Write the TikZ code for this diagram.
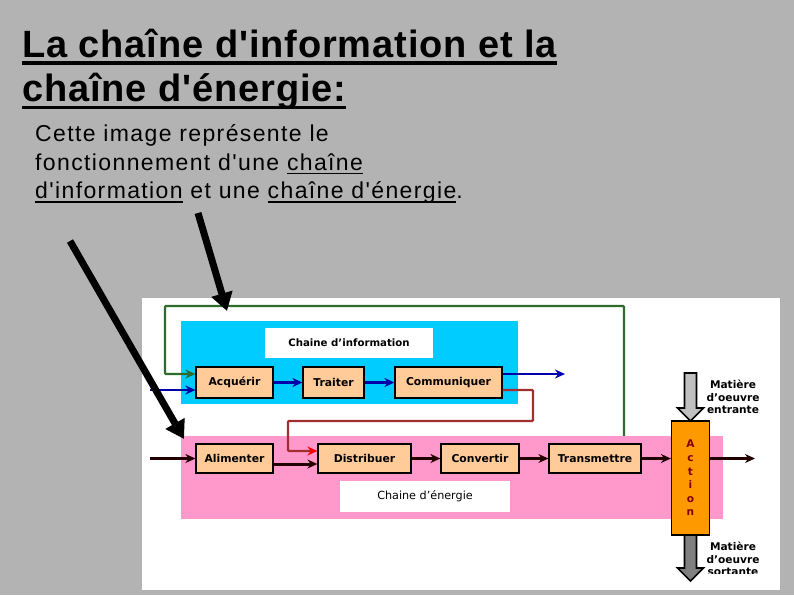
\documentclass[tikz,border=0pt]{standalone}
\usepackage{fontspec}
\setmainfont{Liberation Sans}
\newfontfamily\titlefont{Liberation Sans}[LetterSpace=2.3,Ligatures=TeXOff]
\newfontfamily\subfont{Liberation Sans}[LetterSpace=6,Ligatures=TeXOff]
\newfontfamily\dvfont{DejaVu Sans}
\usetikzlibrary{arrows.meta}
\pgfdeclarelayer{layA}\pgfdeclarelayer{layB}\pgfdeclarelayer{layC}
\pgfsetlayers{layA,layB,layC,main}
\definecolor{bggray}{HTML}{B3B3B3}
\definecolor{infoblue}{HTML}{00CCFF}
\definecolor{energypink}{HTML}{FF99CC}
\definecolor{boxpeach}{HTML}{FFCC99}
\definecolor{actorange}{HTML}{FF9900}
\definecolor{greenline}{HTML}{2F6B2F}
\definecolor{navyline}{HTML}{0000AA}
\definecolor{redline}{HTML}{A03030}
\definecolor{arrred}{HTML}{FF0000}
\definecolor{darkline}{HTML}{220000}
\definecolor{maroonc}{HTML}{800000}
\definecolor{lightgrayarr}{HTML}{C0C0C0}
\definecolor{darkgrayarr}{HTML}{808080}
\newcommand\ulbox[3]{\setbox0\hbox{#3}\rlap{\rule[#1]{\wd0}{#2}}\box0\relax}
\tikzset{
  block/.style={draw=black, line width=1.2pt, fill=boxpeach, inner sep=0pt,
    font=\dvfont\bfseries\fontsize{10.8}{12}\selectfont, text=black},
  chainlabel/.style={fill=white, inner sep=0pt, text=black},
  flow/.style={line width=2.3pt, -{Stealth[length=10pt,width=9pt]}},
  eflow/.style={flow, darkline},
  bigarrow/.style={line width=7pt, black, -{Triangle[length=18pt,width=21pt]}},
  mtext/.style={align=center, inner sep=0pt, text=black,
    font=\dvfont\bfseries\fontsize{10.6}{12.8}\selectfont},
  titletext/.style={anchor=base west, inner sep=0pt, text=black,
    font=\titlefont\bfseries\fontsize{38}{44}\selectfont},
  subtext/.style={anchor=base west, inner sep=0pt, text=black,
    font=\subfont\fontsize{23}{28}\selectfont},
}
\begin{document}
\begin{tikzpicture}[x=1pt,y=-1pt]
\useasboundingbox (0,0) rectangle (794,595);
\begin{pgfonlayer}{layA}
  \fill[bggray] (0,0) rectangle (794,595);
  \fill[white] (142,298) rectangle (780,590);
  \fill[infoblue] (181,321) rectangle (518,404);
\end{pgfonlayer}
\begin{pgfonlayer}{layC}
  \fill[energypink] (181,436) rectangle (723,519);
\end{pgfonlayer}

% title
\node[titletext] (t1) at (22,57) {\ulbox{-7.5pt}{3.5pt}{La chaîne d'information et la}};
\node[titletext] (t2) at (22,101.5) {\ulbox{-7.5pt}{3.5pt}{chaîne d'énergie:}};
\node[subtext] (s1) at (35,141) {Cette image représente le};
\node[subtext] (s2) at (35,170) {fonctionnement d'une \ulbox{-4.2pt}{1.7pt}{chaîne}};
\node[subtext] (s3) at (35,198.5) {\ulbox{-4.2pt}{1.7pt}{d'information} et une \ulbox{-4.2pt}{1.7pt}{chaîne d'énergie}.};

% labels
\node[chainlabel, minimum width=168pt, minimum height=30pt,
  font=\dvfont\bfseries\fontsize{10.2}{12}\selectfont] (linfo) at (349,343) {Chaine d’information};
\node[chainlabel, minimum width=170pt, minimum height=31pt,
  font=\dvfont\fontsize{11.2}{12}\selectfont] (lener) at (425,496.5) {Chaine d’énergie};

% information chain
\node[block, minimum width=77pt, minimum height=31pt] (acq) at (234.5,382.5) {Acquérir};
\node[block, minimum width=61pt, minimum height=31pt] (trait) at (333.5,382.5) {Traiter};
\node[block, minimum width=107pt, minimum height=31pt] (comm) at (448.5,382.5) {Communiquer};

% energy chain
\node[block, minimum width=77pt, minimum height=29pt] (alim) at (234.5,458.5) {Alimenter};
\node[block, minimum width=93pt, minimum height=29pt] (distr) at (364.5,458.5) {Distribuer};
\node[block, minimum width=78pt, minimum height=29pt] (conv) at (480,458.5) {Convertir};
\node[block, minimum width=92pt, minimum height=29pt] (trans) at (595,458.5) {Transmettre};
\node[draw=black, line width=1.2pt, fill=actorange, minimum width=38pt, minimum height=114pt,
  inner sep=0pt, align=center, text=maroonc,
  font=\dvfont\bfseries\fontsize{10.6}{13.6}\selectfont] (act) at (690.5,478) {A\\c\\t\\i\\o\\n};

% free ends
\coordinate (infoin) at (150,390);
\coordinate (infoout) at (565,374);
\coordinate (gstart) at (624,436);
\coordinate (ein) at (150,458.5);
\coordinate (eout) at (755,458.5);

% green feedback (under the pink band)
\begin{pgfonlayer}{layB}
  \draw[line width=2.3pt, greenline, rounded corners=1pt, -{Stealth[length=10pt,width=9pt]}]
    (gstart) -- (624,306) -- (165,306) |- ([yshift=8.5pt]acq.west);
\end{pgfonlayer}

% information flows
\draw[flow, navyline] (infoin) -- (infoin -| acq.west);
\draw[flow, navyline] (acq) -- (trait);
\draw[flow, navyline] (trait) -- (comm);
\draw[flow, navyline] ([yshift=8.5pt]comm.east) -- (infoout);
\draw[line width=2.3pt, redline, rounded corners=1pt, -{Stealth[length=10pt,width=9pt,color=arrred]}]
  ([yshift=-7.5pt]comm.east) -| (533,421) -| (288,451) -- (288,451 -| distr.west);

% energy flows
\draw[eflow] (ein) -- (alim.west);
\draw[eflow, line width=3pt] ([yshift=-5.5pt]alim.east) -- ([yshift=-5.5pt]distr.west);
\draw[eflow] (distr) -- (conv);
\draw[eflow] (conv) -- (trans);
\draw[eflow] (trans.east) -- (trans.east -| act.west);
\draw[eflow] (trans.east -| act.east) -- (eout);

% matter arrows
\draw[line width=1.6pt, black, fill=lightgrayarr]
  (684.5,373) -- (696.5,373) -- (696.5,408) -- (703.5,408) -- (690.5,421)
  -- (677.5,408) -- (684.5,408) -- cycle;
\draw[line width=1.6pt, black, fill=darkgrayarr]
  (684.5,535) -- (696.5,535) -- (696.5,568) -- (703.5,568) -- (690.5,581)
  -- (677.5,568) -- (684.5,568) -- cycle;
\node[mtext] (mentr) at (733,397) {Matière\\d’oeuvre\\entrante};
\begin{scope}
  \clip (700,530) rectangle (780,573.5);
  \node[mtext] (msort) at (733,559) {Matière\\d’oeuvre\\sortante};
\end{scope}

% big pointer arrows
\coordinate (p1s) at (198,213);
\coordinate (p1e) at (227,311);
\coordinate (p2s) at (70,241);
\coordinate (p2e) at (184,439);
\draw[bigarrow] (p1s) -- (p1e);
\draw[bigarrow] (p2s) -- (p2e);
\end{tikzpicture}
\end{document}
